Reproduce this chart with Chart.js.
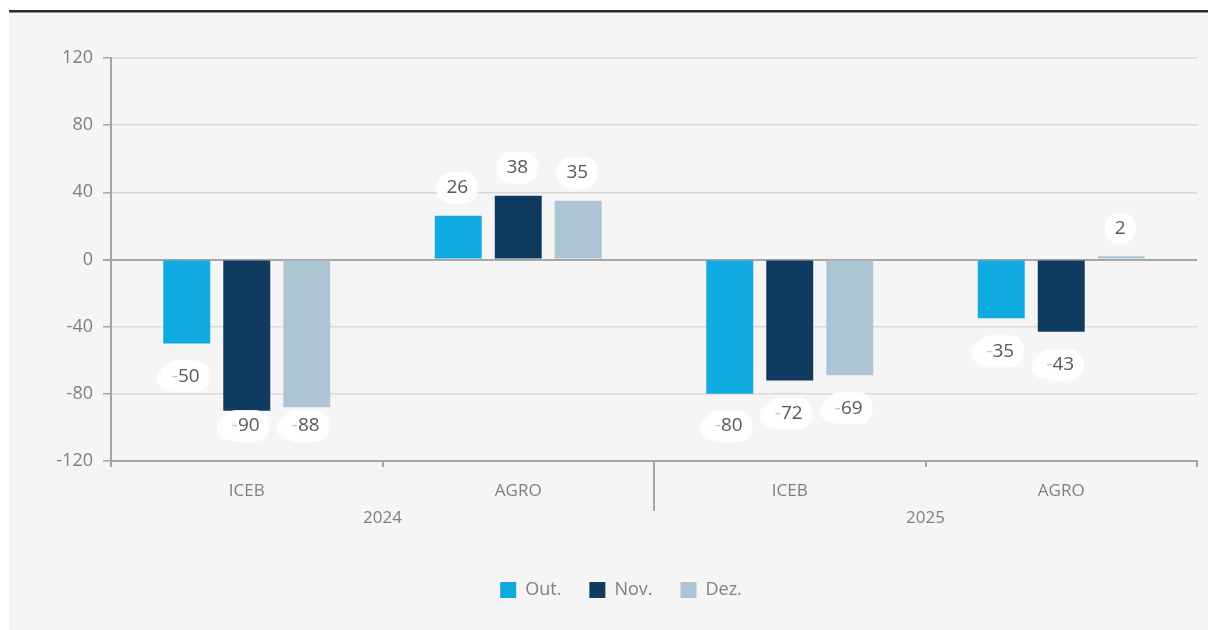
<!DOCTYPE html>
<html><head><meta charset="utf-8">
<script src="https://cdn.jsdelivr.net/npm/chart.js@4.4.1/dist/chart.umd.min.js"></script>
<style>html,body{margin:0;padding:0;background:#fff;}#wrap{width:1208px;height:630px;}</style>
</head><body><div id="wrap"><canvas id="c" width="1208" height="630"></canvas></div>
<script>
const categories = ["ICEB", "AGRO", "ICEB", "AGRO"];
const yearGroups = ["2024", "2025"];
const seriesNames = ["Out.", "Nov.", "Dez."];
const outValues = [-50, 26, -80, -35];
const novValues = [-90, 38, -72, -43];
const dezValues = [-88, 35, -69, 2];
const yMin = -120, yMax = 120, yStep = 40;
const seriesColors = ["#0eaae0", "#0f3b60", "#adc5d3"];

const FONT = "'Open Sans', 'DejaVu Sans', sans-serif";

const backgroundPlugin = {
  id: 'bg',
  beforeDraw(chart) {
    const ctx = chart.ctx;
    ctx.save();
    ctx.fillStyle = '#ffffff';
    ctx.fillRect(0, 0, chart.width, chart.height);
    ctx.fillStyle = '#f5f5f5';
    ctx.fillRect(9, 12, chart.width - 9, chart.height - 12);
    ctx.fillStyle = '#2e2a27';
    ctx.fillRect(9, 10, chart.width - 9, 2.5);
    ctx.restore();
  }
};

const legendShiftPlugin = {
  id: 'legendShift',
  afterLayout(chart) {
    if (chart.legend) {
      chart.legend.left += 18;
      chart.legend.right += 18;
    }
  }
};

const groupPlugin = {
  id: 'groups',
  afterDraw(chart) {
    const ctx = chart.ctx;
    const xs = chart.scales.x;
    const area = chart.chartArea;
    ctx.save();
    const sepX = (xs.getPixelForValue(1) + xs.getPixelForValue(2)) / 2;
    ctx.strokeStyle = '#a6a6a6';
    ctx.lineWidth = 2;
    ctx.beginPath();
    ctx.moveTo(sepX, area.bottom);
    ctx.lineTo(sepX, area.bottom + 50);
    ctx.stroke();
    ctx.fillStyle = '#7f7f7f';
    ctx.font = '17px ' + FONT;
    ctx.textAlign = 'center';
    ctx.textBaseline = 'middle';
    yearGroups.forEach((g, i) => {
      const cx = (xs.getPixelForValue(i * 2) + xs.getPixelForValue(i * 2 + 1)) / 2;
      ctx.fillText(g, cx, area.bottom + 57);
    });
    ctx.restore();
  }
};

function roundRect(ctx, x, y, w, h, r) {
  ctx.beginPath();
  ctx.moveTo(x + r, y);
  ctx.lineTo(x + w - r, y);
  ctx.arcTo(x + w, y, x + w, y + r, r);
  ctx.lineTo(x + w, y + h - r);
  ctx.arcTo(x + w, y + h, x + w - r, y + h, r);
  ctx.lineTo(x + r, y + h);
  ctx.arcTo(x, y + h, x, y + h - r, r);
  ctx.lineTo(x, y + r);
  ctx.arcTo(x, y, x + r, y, r);
  ctx.closePath();
}

const labelPlugin = {
  id: 'valueLabels',
  afterDatasetsDraw(chart) {
    const ctx = chart.ctx;
    const area = chart.chartArea;
    ctx.save();
    ctx.font = '19px ' + FONT;
    ctx.textBaseline = 'middle';
    chart.data.datasets.forEach((ds, di) => {
      const meta = chart.getDatasetMeta(di);
      meta.data.forEach((el, i) => {
        const v = ds.data[i];
        const neg = v < 0;
        const digits = String(Math.abs(v));
        const minus = neg ? '-' : '';
        const wm = ctx.measureText(minus).width;
        const wd = ctx.measureText(digits).width;
        const tw = wm + wd;
        const cy = neg ? Math.min(el.y + 33, area.bottom - 35) : el.y - 28;
        const cx = el.x - 1;
        ctx.fillStyle = 'rgba(255,255,255,0.9)';
        roundRect(ctx, cx - tw / 2 - 10, cy - 16, tw + 20, 32, 15);
        ctx.fill();
        if (neg) {
          ctx.beginPath();
          ctx.arc(cx - tw / 2 - 3, cy + 2, 12, 0, Math.PI * 2);
          ctx.fillStyle = 'rgba(255,255,255,0.8)';
          ctx.fill();
        }
        ctx.textAlign = 'left';
        const x0 = cx - tw / 2;
        if (neg) {
          ctx.fillStyle = '#c4c4c4';
          ctx.fillText(minus, x0, cy);
        }
        ctx.fillStyle = '#595959';
        ctx.fillText(digits, x0 + wm, cy);
      });
    });
    ctx.restore();
  }
};

const seriesData = [outValues, novValues, dezValues];

new Chart(document.getElementById('c'), {
  type: 'bar',
  data: {
    labels: categories,
    datasets: seriesNames.map((n, i) => ({
      label: n,
      data: seriesData[i],
      backgroundColor: seriesColors[i],
      borderWidth: 0,
      categoryPercentage: 0.663,
      barPercentage: 0.783
    }))
  },
  options: {
    responsive: false,
    animation: false,
    devicePixelRatio: 1,
    layout: { padding: { left: 9, right: 11, top: 58, bottom: 21 } },
    plugins: {
      tooltip: { enabled: false },
      legend: {
        position: 'bottom',
        labels: {
          boxWidth: 16, boxHeight: 16, padding: 28,
          color: '#7f7f7f',
          font: { family: FONT, size: 18 }
        }
      }
    },
    scales: {
      x: {
        afterFit(s) { s.height = 92; },
        grid: {
          display: true, drawOnChartArea: false, drawTicks: true,
          tickLength: 6, tickColor: '#a6a6a6', lineWidth: 2, offset: true
        },
        border: { display: true, color: '#a6a6a6', width: 2 },
        ticks: { color: '#7f7f7f', font: { family: FONT, size: 17 }, padding: 14, maxRotation: 0 }
      },
      y: {
        min: yMin, max: yMax,
        afterFit(s) { s.width = 102; },
        ticks: { stepSize: yStep, color: '#7f7f7f', font: { family: FONT, size: 18 }, padding: 10 },
        grid: {
          color: c => (c.tick && c.tick.value === 0) ? '#a6a6a6' : '#d9d9d9',
          lineWidth: c => (c.tick && c.tick.value === 0) ? 2 : 1.5,
          tickColor: '#a6a6a6', tickLength: 8, drawTicks: true
        },
        border: { display: true, color: '#a6a6a6', width: 2 }
      }
    }
  },
  plugins: [backgroundPlugin, legendShiftPlugin, groupPlugin, labelPlugin]
});
</script>
</body></html>
